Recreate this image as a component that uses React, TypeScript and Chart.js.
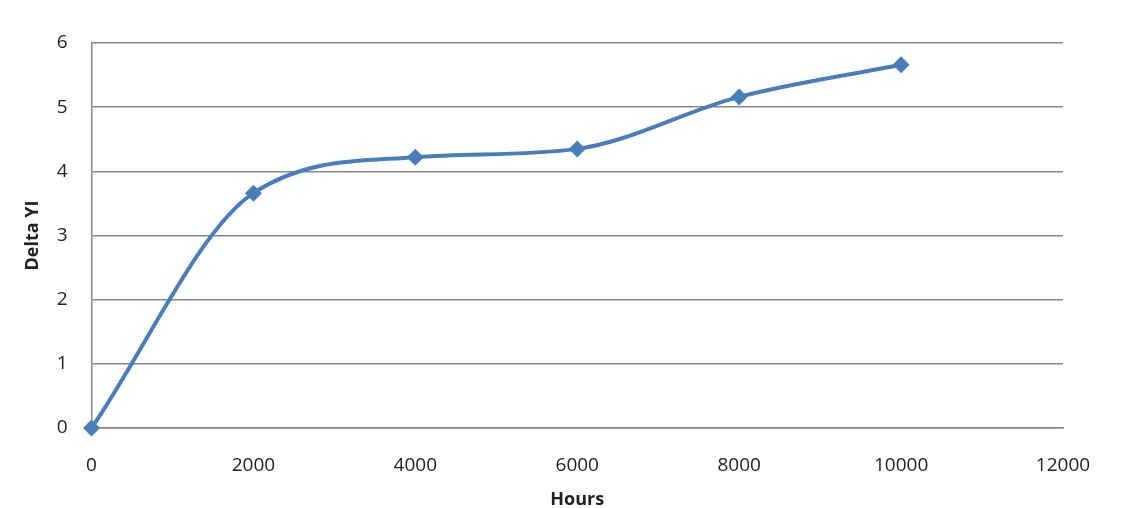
import React, { useEffect, useRef } from "react";
import { Chart, registerables } from "chart.js";

Chart.register(...registerables);

const hours = [0, 2000, 4000, 6000, 8000, 10000];
const deltaYI = [0, 3.66, 4.22, 4.35, 5.16, 5.66];
const xTitle = "Hours";
const yTitle = "Delta YI";

export default function App() {
  const ref = useRef<HTMLCanvasElement | null>(null);
  useEffect(() => {
    if (!ref.current) return;
    const font = { family: "'Open Sans', sans-serif", size: 19 };
    const chart = new Chart(ref.current, {
      type: "line",
      data: {
        datasets: [
          {
            data: hours.map((h, i) => ({ x: h, y: deltaYI[i] })),
            borderColor: "#4a7ebb",
            backgroundColor: "#4a7ebb",
            borderWidth: 4,
            cubicInterpolationMode: "monotone",
            pointStyle: "rectRot",
            pointRadius: 8.5,
            pointBorderWidth: 0,
            fill: false,
            clip: false,
          },
        ],
      },
      options: {
        animation: false,
        responsive: false,
        layout: { padding: { top: 43, right: 84, left: 0, bottom: 0 } },
        plugins: { legend: { display: false }, tooltip: { enabled: false } },
        scales: {
          x: {
            type: "linear",
            min: 0,
            max: 12000,
            ticks: {
              stepSize: 2000,
              color: "#222",
              font,
              padding: 18,
              callback: (v: any) => String(v),
            },
            grid: { display: false },
            border: { display: true, color: "#878787", width: 1.5 },
            title: {
              display: true,
              text: xTitle,
              color: "#222",
              font: { family: "'Open Sans', sans-serif", size: 18, weight: "bold" },
              padding: { top: 19, bottom: -3 },
            },
            afterFit: (s: any) => {
              s.height = 80;
            },
          },
          y: {
            min: 0,
            max: 6,
            ticks: {
              stepSize: 1,
              color: "#222",
              font,
              padding: 24,
              callback: (v: any) => String(v),
            },
            grid: { color: "#878787", lineWidth: 1.5, drawTicks: false },
            border: { display: true, color: "#878787", width: 1.5 },
            title: {
              display: true,
              text: yTitle,
              color: "#222",
              font: { family: "'Open Sans', sans-serif", size: 18, weight: "bold" },
              padding: { top: 22, bottom: 10 },
            },
            afterFit: (s: any) => {
              s.width = 91.5;
            },
          },
        },
      },
    });
    return () => chart.destroy();
  }, []);
  return (
    <div style={{ position: "fixed", left: 0, top: 0, width: 1147, height: 508, background: "#fff" }}>
      <canvas ref={ref} width={1147} height={508} style={{ width: 1147, height: 508 }} />
    </div>
  );
}
